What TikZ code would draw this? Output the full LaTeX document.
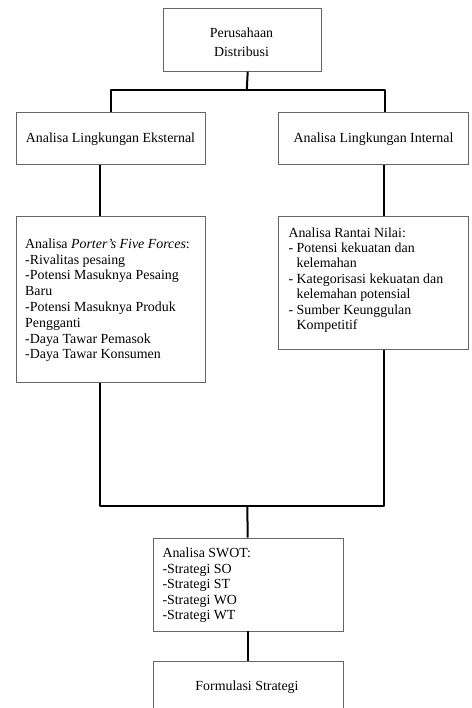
\documentclass[tikz,border=0pt]{standalone}
\usepackage{fontspec}
\setmainfont{Liberation Serif}
\begin{document}
\begin{tikzpicture}[x=1pt,y=-1pt,
  box/.style={draw=black!60,line width=0.8pt,fill=white,rectangle,inner sep=0pt,anchor=north west},
  txt/.style={inner sep=0pt,align=left,anchor=north west,font=\fontsize{13.9}{15.8}\selectfont},
  ctxt/.style={inner sep=0pt,align=center,font=\fontsize{13.9}{16.5}\selectfont},
  conn/.style={draw=black,line width=2pt,line join=round,line cap=butt}]
\path[use as bounding box,clip] (0,0) rectangle (471,708);
\fill[white] (0,0) rectangle (471,708);
% boxes
\node[box,minimum width=158pt,minimum height=62.5pt] (top) at (163,8.3) {};
\node[box,minimum width=189pt,minimum height=52pt] (ext) at (16,112) {};
\node[box,minimum width=190pt,minimum height=52pt] (int) at (278,112) {};
\node[box,minimum width=189pt,minimum height=166pt] (porter) at (16,216) {};
\node[box,minimum width=190pt,minimum height=133pt] (rantai) at (278,216) {};
\node[box,minimum width=190pt,minimum height=93pt] (swot) at (152.5,537.5) {};
\node[box,minimum width=190pt,minimum height=80pt] (form) at (152.5,661) {};
% texts
\node[ctxt,font=\fontsize{13.9}{18.3}\selectfont] (ttop) at (241.5,42.3) {Perusahaan\\Distribusi};
\node[ctxt] (text) at (110.5,139) {Analisa Lingkungan Eksternal};
\node[ctxt] (tint) at (373.5,139) {Analisa Lingkungan Internal};
\node[txt] (tporter) at (25,238.4) {Analisa \textit{Porter’s Five Forces}:\\
-Rivalitas pesaing\\
-Potensi Masuknya Pesaing\\
Baru\\
-Potensi Masuknya Produk\\
Pengganti\\
-Daya Tawar Pemasok\\
-Daya Tawar Konsumen};
\node[txt,font=\fontsize{13.9}{15.4}\selectfont] (trantai) at (288.3,227.2) {Analisa Rantai Nilai:\\
- Potensi kekuatan dan\\
\phantom{- }kelemahan\\
- Kategorisasi kekuatan dan\\
\phantom{- }kelemahan potensial\\
- Sumber Keunggulan\\
\phantom{- }Kompetitif};
\node[txt,font=\fontsize{13.9}{15.5}\selectfont] (tswot) at (162.3,547.8) {Analisa SWOT:\\
-Strategi SO\\
-Strategi ST\\
-Strategi WO\\
-Strategi WT};
\node[ctxt] (tform) at (247,687) {Formulasi Strategi};
% connectors
\coordinate (j1) at (246.8,90);
\coordinate (j2) at (247.3,506);
\draw[conn] ([xshift=5.3pt]top.south) -- (j1);
\draw[conn] ([xshift=0.5pt]ext.north) |- (j1);
\draw[conn] ([xshift=12pt]int.north) |- (j1);
\draw[conn] ([xshift=-10.5pt]ext.south) -- ([xshift=-10.5pt]porter.north);
\draw[conn] ([xshift=11pt]int.south) -- ([xshift=11pt]rantai.north);
\draw[conn] ([xshift=-10.5pt]porter.south) |- (j2);
\draw[conn] ([xshift=11pt]rantai.south) |- (j2);
\draw[conn] (j2) -- ([xshift=-0.2pt]swot.north);
\draw[conn] ([xshift=-0.2pt]swot.south) -- ([xshift=-0.2pt]form.north);
\end{tikzpicture}
\end{document}
